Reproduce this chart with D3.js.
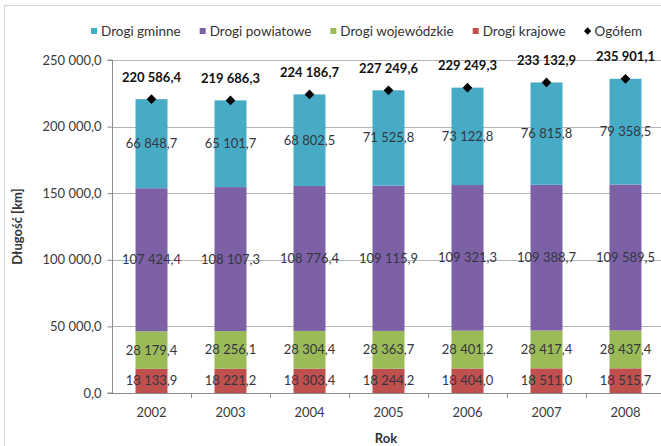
<!DOCTYPE html>
<html>
<head>
<meta charset="utf-8">
<script src="https://cdn.jsdelivr.net/npm/d3@7"></script>
<style>
  html, body { margin: 0; padding: 0; background: #ffffff; }
  svg { display: block; font-family: Lato, "Open Sans", sans-serif; }
</style>
</head>
<body>
<svg id="chart" width="661" height="446"></svg>
<script>
// Długość dróg publicznych w Polsce, 2002–2008 [km]
const years = ["2002", "2003", "2004", "2005", "2006", "2007", "2008"];
const krajowe = [18133.9, 18221.2, 18303.4, 18244.2, 18404.0, 18511.0, 18515.7];
const wojewodzkie = [28179.4, 28256.1, 28304.4, 28363.7, 28401.2, 28417.4, 28437.4];
const powiatowe = [107424.4, 108107.3, 108776.4, 109115.9, 109321.3, 109388.7, 109589.5];
const gminne = [66848.7, 65101.7, 68802.5, 71525.8, 73122.8, 76815.8, 79358.5];
const ogolem = [220586.4, 219686.3, 224186.7, 227249.6, 229249.3, 233132.9, 235901.1];
const yTicks = [0, 50000, 100000, 150000, 200000, 250000];

const seriesNames = ["Drogi gminne", "Drogi powiatowe", "Drogi wojewódzkie", "Drogi krajowe"];
const colors = {
  "Drogi krajowe": "#c0504d",
  "Drogi wojewódzkie": "#9bbb59",
  "Drogi powiatowe": "#7d61a6",
  "Drogi gminne": "#48abc6"
};
const stackOrder = [
  { name: "Drogi krajowe", values: krajowe },
  { name: "Drogi wojewódzkie", values: wojewodzkie },
  { name: "Drogi powiatowe", values: powiatowe },
  { name: "Drogi gminne", values: gminne }
];

// "220 586,4" style: space thousands separator, decimal comma
const fmt = d3.formatLocale({ decimal: ",", thousands: " ", grouping: [3], currency: ["", " zł"] }).format(",.1f");

const svg = d3.select("#chart");

// chart frame
svg.append("rect")
  .attr("x", 4.5).attr("y", 5.5)
  .attr("width", 720).attr("height", 520)
  .attr("fill", "none").attr("stroke", "#d4d4d4");

const x = d3.scaleBand().domain(years).range([112, 665]).paddingInner(0.595).paddingOuter(0.2975);
const y = d3.scaleLinear().domain([0, 250000]).range([393, 60]);

// gridlines
svg.append("g")
  .selectAll("line")
  .data(yTicks.filter(d => d > 0))
  .join("line")
  .attr("x1", 112).attr("x2", 665)
  .attr("y1", d => Math.round(y(d)) + 0.5).attr("y2", d => Math.round(y(d)) + 0.5)
  .attr("stroke", "#b4b4b4");

// stacked data
const rows = years.map((yr, i) => {
  const r = { year: yr };
  stackOrder.forEach(s => r[s.name] = s.values[i]);
  return r;
});
const stacked = d3.stack().keys(stackOrder.map(s => s.name))(rows);

const layers = svg.append("g").selectAll("g")
  .data(stacked)
  .join("g")
  .attr("fill", d => colors[d.key]);

layers.selectAll("rect")
  .data(d => d)
  .join("rect")
  .attr("x", d => x(d.data.year))
  .attr("width", x.bandwidth())
  .attr("y", d => y(d[1]))
  .attr("height", d => y(d[0]) - y(d[1]));

// segment value labels
const labelG = svg.append("g")
  .attr("font-size", 13)
  .attr("fill", "#333640")
  .attr("text-anchor", "middle");
stacked.forEach(layer => {
  labelG.selectAll(null)
    .data(layer)
    .join("text")
    .attr("x", d => x(d.data.year) + x.bandwidth() / 2)
    .attr("y", d => y((d[0] + d[1]) / 2))
    .attr("dy", "0.35em")
    .text(d => fmt(d[1] - d[0]));
});

// axes
const yAxis = d3.axisLeft(y).tickValues(yTicks).tickSize(5).tickPadding(6).tickFormat(fmt);
const gy = svg.append("g").attr("transform", "translate(112.5,0)").call(yAxis);
gy.select(".domain").attr("stroke", "#8c8c8c").attr("d", `M-5,${y(0)}H0V${y(250000)}H-5`);
gy.selectAll(".tick line").attr("stroke", "#8c8c8c");
gy.selectAll(".tick text").attr("font-size", 13).attr("fill", "#3a3a3a").attr("font-family", "Lato, sans-serif");

svg.append("line")
  .attr("x1", 112).attr("x2", 665)
  .attr("y1", y(0) + 0.5).attr("y2", y(0) + 0.5)
  .attr("stroke", "#8c8c8c");

// category boundary ticks
const step = x.step();
svg.append("g").selectAll("line")
  .data(years)
  .join("line")
  .attr("x1", d => Math.round(x(d) + x.bandwidth() / 2 + step / 2) + 0.5)
  .attr("x2", d => Math.round(x(d) + x.bandwidth() / 2 + step / 2) + 0.5)
  .attr("y1", y(0)).attr("y2", y(0) + 5)
  .attr("stroke", "#8c8c8c");

const xAxis = d3.axisBottom(x).tickSize(0).tickPadding(15);
const gx = svg.append("g").attr("transform", `translate(0,${y(0)})`).call(xAxis);
gx.select(".domain").remove();
gx.selectAll(".tick text").attr("font-size", 13).attr("fill", "#3a3a3a").attr("font-family", "Lato, sans-serif");

// total markers and labels
const totals = svg.append("g");
totals.selectAll("path")
  .data(years)
  .join("path")
  .attr("d", d3.symbol(d3.symbolDiamond2, 60))
  .attr("transform", (d, i) => `translate(${x(d) + x.bandwidth() / 2},${y(ogolem[i])})`)
  .attr("fill", "#000");
totals.selectAll("text")
  .data(years)
  .join("text")
  .attr("x", d => x(d) + x.bandwidth() / 2)
  .attr("y", (d, i) => y(ogolem[i]) - 22)
  .attr("dy", "0.35em")
  .attr("text-anchor", "middle")
  .attr("font-size", 13)
  .attr("font-weight", "bold")
  .attr("fill", "#111")
  .text((d, i) => fmt(ogolem[i]));

// axis titles
svg.append("text")
  .attr("transform", `translate(17,${(y(0) + y(250000)) / 2}) rotate(-90)`)
  .attr("text-anchor", "middle")
  .attr("dy", "0.35em")
  .attr("font-size", 13)
  .attr("font-weight", "bold")
  .attr("fill", "#333")
  .text("Długość [km]");

svg.append("text")
  .attr("x", 386).attr("y", 438)
  .attr("dy", "0.35em")
  .attr("text-anchor", "middle")
  .attr("font-size", 13)
  .attr("font-weight", "bold")
  .attr("fill", "#333")
  .text("Rok");

// legend
const legendItems = seriesNames.map(n => ({ name: n, type: "rect" }))
  .concat([{ name: "Ogółem", type: "diamond" }]);
const legend = svg.append("g").attr("font-size", 13.5).attr("fill", "#333");
let lx = 91;
legendItems.forEach(item => {
  const g = legend.append("g").attr("transform", `translate(${lx},31)`);
  if (item.type === "rect") {
    g.append("rect").attr("x", 0).attr("y", -3).attr("width", 6).attr("height", 6).attr("fill", colors[item.name]);
  } else {
    g.append("path").attr("d", d3.symbol(d3.symbolDiamond2, 34)).attr("transform", "translate(3,0)").attr("fill", "#000");
  }
  const t = g.append("text").attr("x", 10).attr("dy", "0.35em").text(item.name);
  lx += 10 + t.node().getComputedTextLength() + 19;
});
</script>
</body>
</html>
